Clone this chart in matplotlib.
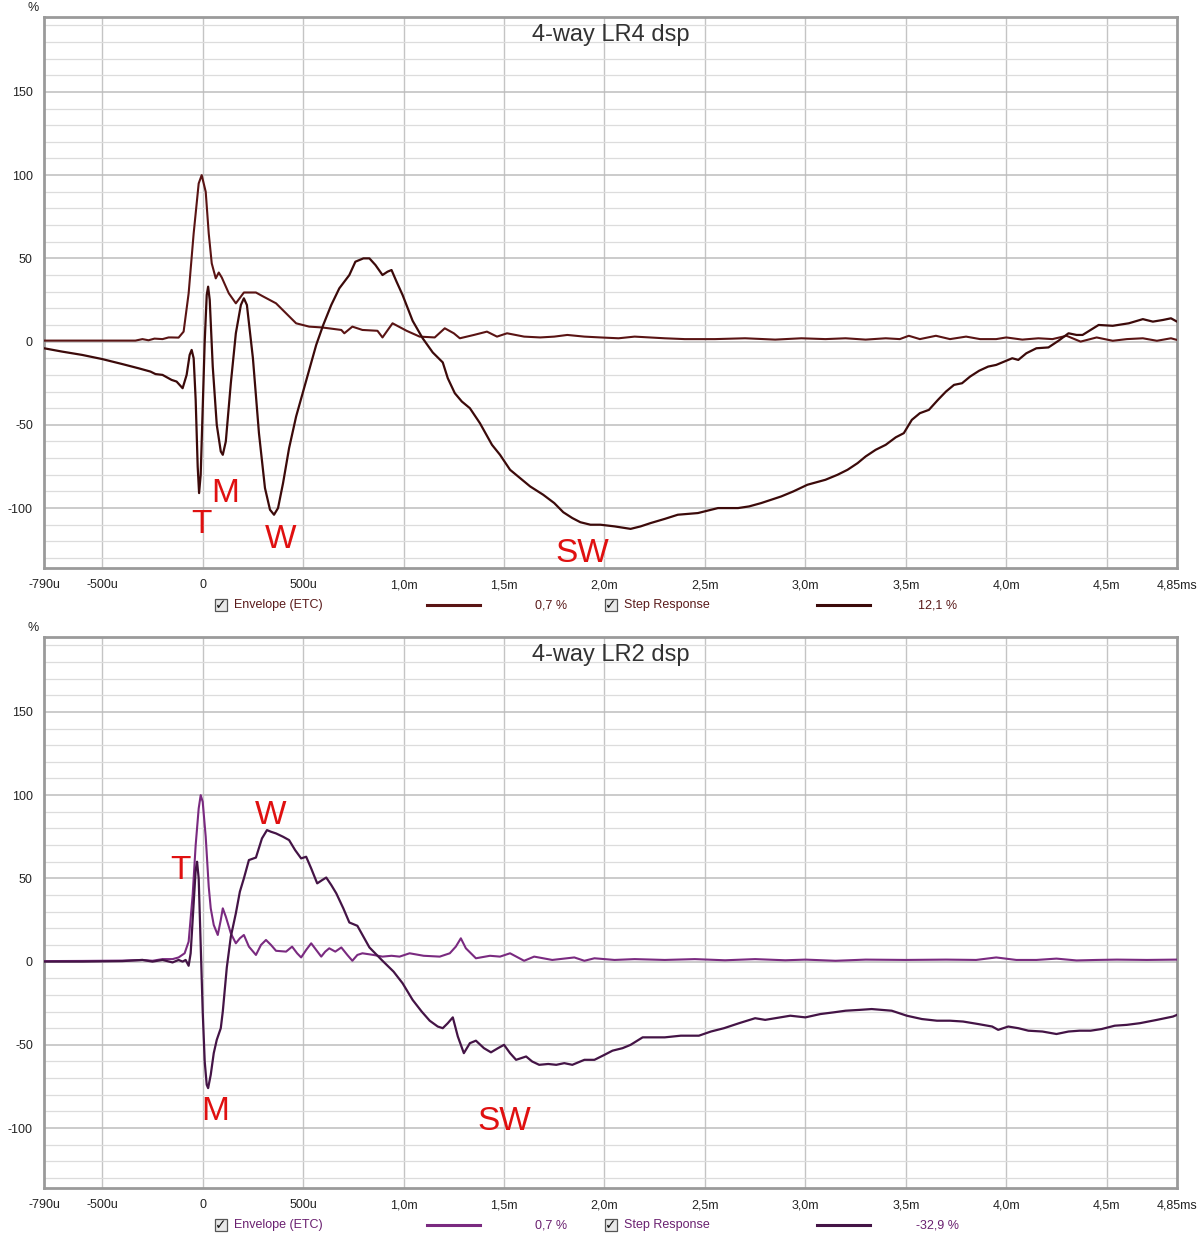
import matplotlib
matplotlib.use("Agg")
import matplotlib.pyplot as plt
from matplotlib.patches import Rectangle

plt.rcParams['font.family'] = ['Liberation Sans', 'DejaVu Sans']
plt.rcParams['axes.unicode_minus'] = False

# ---- data (time in ms, level in %) ----
lr4_env_t = [-0.79, -0.6, -0.45, -0.335, -0.3, -0.27, -0.24, -0.2, -0.17, -0.155, -0.12, -0.095,
             -0.07, -0.045, -0.02, -0.005, 0.015, 0.03, 0.045, 0.065, 0.08, 0.095, 0.13, 0.165,
             0.205, 0.265, 0.295, 0.365, 0.415, 0.465, 0.53, 0.595, 0.69, 0.705, 0.745, 0.795,
             0.87, 0.895, 0.945, 1.015, 1.08, 1.155, 1.205, 1.25, 1.28, 1.35, 1.415, 1.465, 1.515,
             1.6, 1.68, 1.75, 1.815, 1.9, 1.98, 2.07, 2.15, 2.3, 2.4, 2.55, 2.7, 2.85, 2.98, 3.1,
             3.2, 3.3, 3.4, 3.47, 3.515, 3.57, 3.65, 3.72, 3.8, 3.87, 3.95, 4.0, 4.08, 4.16, 4.23,
             4.3, 4.37, 4.45, 4.53, 4.6, 4.68, 4.75, 4.82, 4.85]
lr4_env_v = [0.6, 0.6, 0.6, 0.6, 1.5, 0.8, 1.8, 1.5, 2.5, 2.5, 2.4, 6,
             29, 65, 95, 100, 90, 65, 47, 38, 41.5, 38.5, 29, 23,
             29.5, 29.5, 27.5, 23, 17, 11, 9, 8.5, 7, 5, 9, 7,
             6.5, 2.5, 11, 6.5, 3, 2.5, 8, 5, 2, 4, 6, 3, 5,
             3, 2.5, 3, 4, 3, 2.5, 2, 3, 2, 1.5, 1.5, 2, 1.2, 2, 1.5,
             2, 1.2, 2, 1.5, 3.5, 1.5, 3.5, 1.5, 3, 1.5, 1.5, 2.5, 1.2, 2, 1.5,
             3.5, 0, 2.5, 0.5, 1.5, 2, 0.5, 2, 1]

lr4_step_t = [-0.79, -0.7, -0.6, -0.5, -0.4, -0.32, -0.26, -0.235, -0.2, -0.17, -0.155, -0.13,
              -0.115, -0.1, -0.08, -0.065, -0.055, -0.045, -0.035, -0.025, -0.018, -0.01, 0.0,
              0.01, 0.02, 0.027, 0.035, 0.05, 0.07, 0.09, 0.1, 0.115, 0.14, 0.165, 0.19, 0.205,
              0.22, 0.25, 0.28, 0.31, 0.335, 0.355, 0.375, 0.4, 0.43, 0.465, 0.5, 0.53, 0.565,
              0.6, 0.64, 0.68, 0.73, 0.76, 0.8, 0.83, 0.86, 0.895, 0.92, 0.94, 0.965, 0.995,
              1.045, 1.095, 1.145, 1.195, 1.22, 1.255, 1.29, 1.33, 1.38, 1.44, 1.48, 1.53, 1.58,
              1.63, 1.695, 1.75, 1.795, 1.84, 1.88, 1.93, 1.98, 2.05, 2.13, 2.18, 2.23, 2.3,
              2.365, 2.465, 2.565, 2.665, 2.72, 2.78, 2.83, 2.88, 2.94, 3.01, 3.1, 3.16, 3.21,
              3.26, 3.3, 3.35, 3.4, 3.45, 3.49, 3.53, 3.57, 3.615, 3.66, 3.7, 3.74, 3.78, 3.82,
              3.865, 3.91, 3.95, 3.99, 4.03, 4.06, 4.1, 4.15, 4.21, 4.26, 4.31, 4.35, 4.38, 4.42,
              4.46, 4.53, 4.61, 4.68, 4.73, 4.78, 4.82, 4.85]
lr4_step_v = [-4, -6, -8, -10.5, -13.5, -16, -18, -19.5, -20, -22, -23, -24,
              -26, -28, -20, -8, -5, -10, -35, -75, -91, -80, -40,
              0, 28, 33, 25, -15, -50, -66, -68, -60, -25, 5, 22, 26,
              22, -10, -55, -88, -101, -104, -100, -85, -64, -45, -30, -17, -2,
              10, 22, 32, 40, 48, 50, 50, 46, 40, 42, 43, 36, 28,
              12.5, 2, -6.5, -12.5, -22, -31, -36, -40, -49, -62, -68, -77, -82,
              -87, -92, -97, -102.5, -106, -108.5, -110, -110, -111, -112.5, -111, -109, -106.5,
              -104, -103, -100, -100, -99, -97, -95, -93, -90, -86, -83, -80, -77,
              -73, -69, -65, -62, -57.5, -55, -47, -43, -41, -35, -30, -26, -25, -21,
              -17.5, -15, -14, -12, -10, -11, -7, -4, -3.5, 0.5, 5, 4, 4, 7,
              10, 9.5, 11, 13.5, 12, 13, 14, 12]

lr2_env_t = [-0.79, -0.6, -0.4, -0.3, -0.25, -0.2, -0.15, -0.12, -0.09, -0.07, -0.05, -0.035,
             -0.02, -0.01, 0.0, 0.015, 0.03, 0.04, 0.055, 0.075, 0.09, 0.1, 0.115, 0.14, 0.165,
             0.185, 0.205, 0.23, 0.265, 0.29, 0.315, 0.34, 0.365, 0.415, 0.445, 0.47, 0.49,
             0.515, 0.54, 0.565, 0.59, 0.61, 0.63, 0.66, 0.69, 0.72, 0.745, 0.77, 0.795, 0.85,
             0.895, 0.94, 0.98, 1.03, 1.1, 1.18, 1.23, 1.26, 1.285, 1.31, 1.36, 1.43, 1.48,
             1.53, 1.6, 1.65, 1.74, 1.85, 1.9, 1.95, 2.05, 2.15, 2.3, 2.45, 2.6, 2.75, 2.9,
             3.0, 3.15, 3.3, 3.5, 3.7, 3.85, 3.95, 4.05, 4.15, 4.25, 4.35, 4.45, 4.55, 4.7, 4.85]
lr2_env_v = [0.3, 0.4, 0.6, 1, 0.5, 1.5, 1.5, 2.5, 5, 12, 40, 70,
             92, 100, 96, 75, 45, 32, 22, 16, 25, 32, 27, 17, 11,
             14, 16, 9, 4, 10, 13, 10, 6.5, 6, 9, 5, 2.5,
             7, 11, 7, 3, 6, 8, 6, 8.5, 4, 0.5, 4, 5, 4,
             3, 3.5, 3, 5, 3.5, 3, 5, 9, 14, 8, 2, 3.5, 3,
             5, 0.5, 3, 1, 2.5, 0.5, 2, 1, 1.5, 1, 1.5, 0.8, 1.5, 0.8,
             1.2, 0.5, 1.2, 1, 1.2, 1, 2.5, 1, 1, 1.8, 0.7, 1, 1.2, 1, 1.2]

lr2_step_t = [-0.79, -0.6, -0.4, -0.3, -0.25, -0.2, -0.15, -0.12, -0.1, -0.085, -0.07, -0.06,
              -0.045, -0.035, -0.028, -0.02, -0.01, 0.0, 0.01, 0.02, 0.027, 0.04, 0.055, 0.07,
              0.09, 0.1, 0.12, 0.14, 0.165, 0.185, 0.205, 0.23, 0.265, 0.295, 0.32, 0.34, 0.365,
              0.4, 0.43, 0.46, 0.49, 0.515, 0.54, 0.57, 0.595, 0.615, 0.64, 0.665, 0.7, 0.73,
              0.77, 0.8, 0.83, 0.895, 0.95, 0.995, 1.045, 1.09, 1.13, 1.17, 1.195, 1.22, 1.245,
              1.27, 1.3, 1.33, 1.36, 1.4, 1.435, 1.47, 1.5, 1.53, 1.56, 1.61, 1.64, 1.675, 1.72,
              1.76, 1.8, 1.84, 1.9, 1.95, 2.0, 2.04, 2.09, 2.13, 2.19, 2.24, 2.3, 2.38, 2.47,
              2.53, 2.595, 2.67, 2.75, 2.8, 2.85, 2.925, 3.0, 3.075, 3.14, 3.2, 3.27, 3.33,
              3.38, 3.43, 3.505, 3.58, 3.655, 3.72, 3.785, 3.86, 3.93, 3.96, 4.01, 4.06, 4.11,
              4.18, 4.25, 4.31, 4.365, 4.42, 4.475, 4.54, 4.6, 4.665, 4.75, 4.83, 4.85]
lr2_step_v = [0, 0, 0.3, 1, 0, 1, -0.5, 1, 0, 1, -2.5, 5,
              35, 55, 60, 50, 10, -30, -60, -74, -76, -68, -55, -47,
              -40, -30, -3.5, 15, 29, 42, 50, 61, 62.5, 74, 79, 78, 77,
              75, 73, 67, 62, 63, 56, 47, 49, 50.5, 46, 41, 32, 23.5,
              21.5, 15, 8.5, 0.5, -6, -13, -23, -30, -35.5, -39, -40, -37, -33.5,
              -45, -55, -49, -47.5, -52, -54.5, -52, -50, -55, -59, -57, -60, -62, -61.5,
              -62, -61, -62, -59, -59, -56, -53.5, -52, -50, -45.5, -45.5, -45.5, -44.5, -44.5,
              -42, -40, -37, -34, -35, -34, -32.5, -33.5, -31.5, -30.5, -29.5, -29, -28.5,
              -29, -29.5, -32.5, -34.5, -35.5, -35.5, -36, -37.5, -39, -41, -39, -40, -41.5,
              -42, -43.5, -42, -41.5, -41.5, -40.5, -38.5, -38, -37, -35, -33, -32]

x_ticks = [-0.79, -0.5, 0, 0.5, 1.0, 1.5, 2.0, 2.5, 3.0, 3.5, 4.0, 4.5, 4.85]
x_labels = ["-790u", "-500u", "0", "500u", "1,0m", "1,5m", "2,0m", "2,5m",
            "3,0m", "3,5m", "4,0m", "4,5m", "4,85ms"]
y_ticks = [-100, -50, 0, 50, 100, 150]

panels = [
    dict(title="4-way LR4 dsp", env=(lr4_env_t, lr4_env_v), step=(lr4_step_t, lr4_step_v),
         env_color="#5a1414", step_color="#3c0a0a", text_color="#5a1a1a",
         env_val="0,7 %", step_val="12,1 %",
         marks=[("T", -0.005, -110), ("M", 0.11, -91), ("W", 0.39, -119), ("SW", 1.89, -127)]),
    dict(title="4-way LR2 dsp", env=(lr2_env_t, lr2_env_v), step=(lr2_step_t, lr2_step_v),
         env_color="#7a2a80", step_color="#441446", text_color="#6a2070",
         env_val="0,7 %", step_val="-32,9 %",
         marks=[("T", -0.11, 55), ("W", 0.34, 88), ("M", 0.06, -90), ("SW", 1.5, -96)]),
]

fig = plt.figure(figsize=(12, 12.4), dpi=100)
W, H = 1200.0, 1240.0
# axes boxes in pixels: left, top, right, bottom
boxes = [(44, 17, 1177, 568), (44, 637, 1177, 1188)]

for p, (l, t, r, b) in zip(panels, boxes):
    ax = fig.add_axes([l / W, 1 - b / H, (r - l) / W, (b - t) / H])
    ax.set_xlim(-0.79, 4.85)
    ax.set_ylim(-136, 195)

    # grid: vertical every 0.5 ms, horizontal every 10 % with stronger lines every 50 %
    for xv in [-0.5, 0, 0.5, 1.0, 1.5, 2.0, 2.5, 3.0, 3.5, 4.0, 4.5]:
        ax.axvline(xv, color="#c4c4c4", lw=1, zorder=0)
    for yv in range(-130, 200, 10):
        if yv % 50 == 0:
            ax.axhline(yv, color="#bdbdbd", lw=1.1, zorder=0)
        else:
            ax.axhline(yv, color="#dcdcdc", lw=0.9, zorder=0)

    ax.plot(*p["env"], color=p["env_color"], lw=1.5, zorder=3,
            solid_joinstyle="round", solid_capstyle="round")
    ax.plot(*p["step"], color=p["step_color"], lw=1.6, zorder=3,
            solid_joinstyle="round", solid_capstyle="round")

    for txt, xm, ym in p["marks"]:
        ax.text(xm, ym, txt, color="#e01010", fontsize=24, ha="center", va="center", zorder=4)

    ax.text(0.5, 0.968, p["title"], transform=ax.transAxes, ha="center", va="center",
            fontsize=17, color="#333333")

    ax.set_xticks(x_ticks)
    ax.set_xticklabels(x_labels)
    ax.set_yticks(y_ticks)
    ax.tick_params(length=0, labelsize=9, colors="#222222", pad=8)
    for s in ax.spines.values():
        s.set_color("#9a9a9a")
        s.set_linewidth(2.0)

    fig.text(33 / W, 1 - (t - 9) / H, "%", fontsize=9, ha="center", va="center", color="#222222")

    # legend row under the axes
    ly = 1 - (b + 37) / H
    for cx, label, lx0, lx1, vx, val, col in [
        (221, "Envelope (ETC)", 427, 480, 551, p["env_val"], p["env_color"]),
        (611, "Step Response", 817, 870, 938, p["step_val"], p["step_color"]),
    ]:
        fig.patches.append(Rectangle(((cx - 6) / W, ly - 6 / H), 12 / W, 12 / H,
                                     transform=fig.transFigure, facecolor="#e8e8e8",
                                     edgecolor="#555555", lw=0.9))
        fig.text(cx / W, ly, "\u2713", fontsize=10, ha="center", va="center",
                 color="#111111", family=["DejaVu Sans"], fontweight="bold")
        fig.text((cx + 13) / W, ly, label, fontsize=9, ha="left", va="center",
                 color=p["text_color"])
        fig.add_artist(plt.Line2D([lx0 / W, lx1 / W], [ly, ly], color=col, lw=2.2,
                                  transform=fig.transFigure))
        fig.text(vx / W, ly, val, fontsize=9, ha="center", va="center", color=p["text_color"])

fig.savefig("out.png", dpi=100, facecolor="white")
